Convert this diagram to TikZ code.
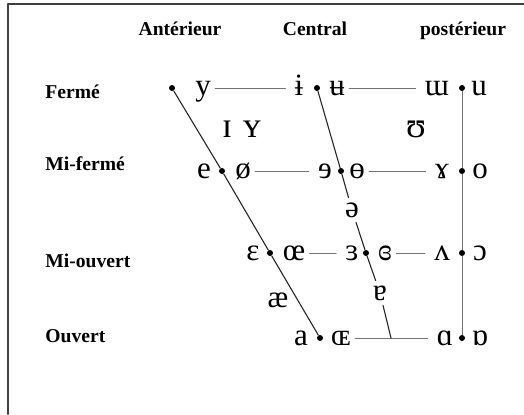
\documentclass[tikz,border=0pt]{standalone}
\usepackage{fontspec}
\setmainfont{Liberation Serif}
\newfontfamily\ipafont{Liberation Serif}

\begin{document}
\begin{tikzpicture}[
  x=0.5pt,
  y=-0.5pt,
  line cap=round,
  line join=round,
  heading/.style={
    font=\bfseries\fontsize{9.8}{11}\selectfont,
    anchor=base,
    inner sep=0pt
  },
  rowlabel/.style={heading, anchor=base west},
  vowel/.style={
    font=\ipafont\fontsize{15.5}{17}\selectfont,
    text height=8pt,
    text depth=1pt,
    inner xsep=2pt,
    inner ysep=1.5pt
  },
  lax/.style={vowel, font=\ipafont\fontsize{18}{20}\selectfont},
  pt/.style={circle, fill=black, inner sep=0pt, minimum size=3pt},
  guide/.style={draw=black!55, line width=0.5pt, shorten >=2.5pt},
  slant/.style={draw=black!85, line width=0.55pt},
  back/.style={draw=black!55, line width=0.5pt}
]
\useasboundingbox (0,0) rectangle (524,414);

% frame
\draw[black!75, line width=0.9pt] (8,414) -- (8,4) -- (524,4);

% column and row headings
\node[heading] (hant) at (180,35) {Antérieur};
\node[heading] (hcen) at (315,35) {Central};
\node[heading] (hpos) at (463,35) {postérieur};

\node[rowlabel] (lfer) at (45,98)  {Fermé};
\node[rowlabel] (lmif) at (45,170) {Mi-fermé};
\node[rowlabel] (lmio) at (45,267) {Mi-ouvert};
\node[rowlabel] (louv) at (45,342) {Ouvert};

% dots: front, central, back
\node[pt] (f1) at (172,88)  {};
\node[pt] (f2) at (222,171) {};
\node[pt] (f3) at (270,253) {};
\node[pt] (f4) at (320,338) {};

\node[pt] (c1) at (317,88)  {};
\node[pt] (c2) at (341,171) {};
\node[pt] (c3) at (366,253) {};
\coordinate (cj) at (391,338);

\node[pt] (b1) at (462,88)  {};
\node[pt] (b2) at (462,171) {};
\node[pt] (b3) at (462,253) {};
\node[pt] (b4) at (462,338) {};

% closed
\node[vowel] (y)    at (203,88) {y};
\node[vowel] (ibar) at (299,88) {ɨ};
\node[vowel] (ubar) at (337,88) {ʉ};
\node[vowel] (wu)   at (437,88) {ɯ};
\node[vowel] (u)    at (479,88) {u};

\node[lax] (smi)  at (227,130) {ɪ};
\node[lax] (smy)  at (252,130) {ʏ};
\node[lax] (smu)  at (416,130) {ʊ};

% close-mid
\node[vowel] (e)    at (204,171) {e};
\node[vowel] (oslash) at (243,171) {ø};
\node[vowel] (reve) at (325,171) {ɘ};
\node[vowel] (obar) at (357,171) {ɵ};
\node[vowel] (rams) at (442,171) {ɤ};
\node[vowel] (o)    at (480,171) {o};

\node[vowel] (schwa) at (352,210) {ə};

% open-mid
\node[vowel] (eps)   at (253,253) {ɛ};
\node[vowel] (oe)    at (294,253) {œ};
\node[vowel] (reveps) at (352,253) {ɜ};
\node[vowel] (clreveps) at (385,253) {ɞ};
\node[vowel] (wedge) at (442,253) {ʌ};
\node[vowel] (openo) at (480,253) {ɔ};

\node[vowel] (ash)   at (278,300) {æ};
\node[vowel] (turna) at (380,293) {ɐ};

% open
\node[vowel] (a)     at (301,338) {a};
\node[vowel] (OE)    at (341,338) {ɶ};
\node[vowel] (scra)  at (445,338) {ɑ};
\node[vowel] (tscra) at (480,338) {ɒ};

% horizontal links
\draw[guide] (y) -- (ibar);
\draw[guide] (ubar) -- (wu);
\draw[guide] (oslash) -- (reve);
\draw[guide] (obar) -- (rams);
\draw[guide] (oe) -- (reveps);
\draw[guide] (clreveps) -- (wedge);
\draw[guide] (OE) -- (scra);

% slanted and back lines
\draw[slant] (f1) -- (f2) -- (f3) -- (f4);
\draw[slant] (c1) -- (c2) -- (schwa) -- (c3) -- (turna) -- (cj);
\draw[back] (b1) -- (b2) -- (b3) -- (b4);

\end{tikzpicture}
\end{document}
